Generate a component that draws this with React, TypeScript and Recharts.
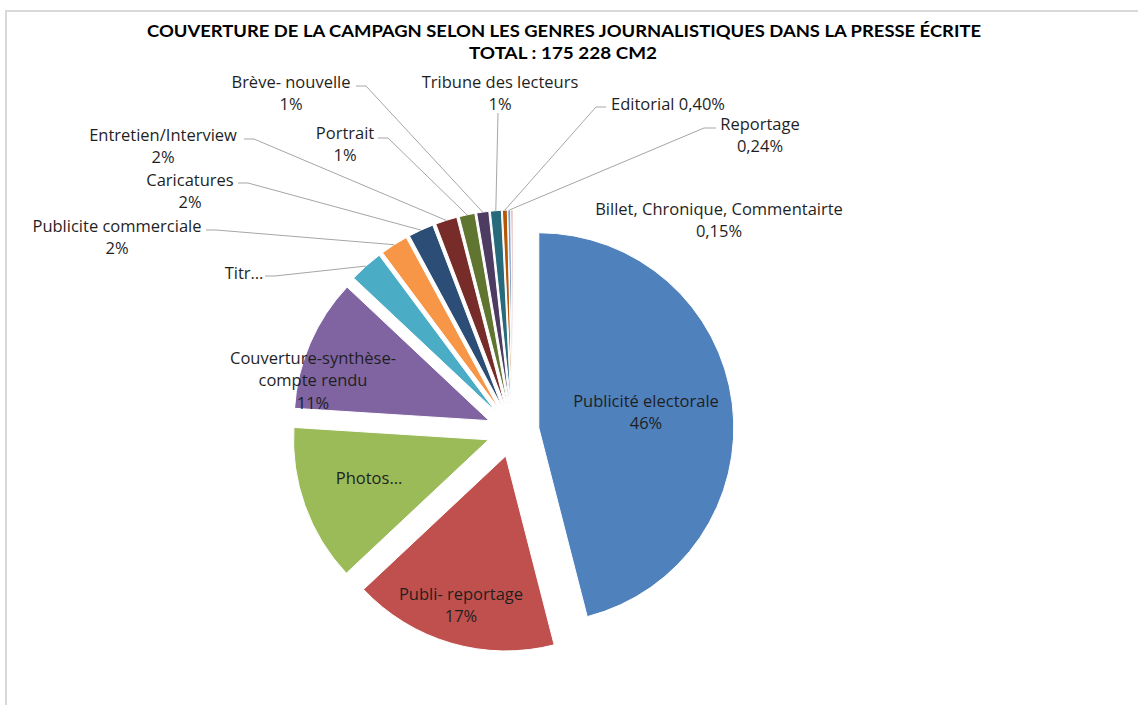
import { PieChart, Pie, Cell, Sector } from "recharts";

const genres = [
  "Publicité electorale",
  "Publi- reportage",
  "Photos…",
  "Couverture-synthèse-\ncompte rendu",
  "Titr…",
  "Publicite commerciale",
  "Caricatures",
  "Entretien/Interview",
  "Portrait",
  "Brève- nouvelle",
  "Tribune des lecteurs",
  "Editorial",
  "Reportage",
  "Billet, Chronique, Commentairte",
];

// share of the 175 228 cm2, in %
const shares = [46, 17, 13, 11, 2.8, 2.3, 2.1, 1.8, 1.3, 1.0, 0.9, 0.4, 0.24, 0.15];

const colors = [
  "#4F81BD", "#C0504D", "#9BBB59", "#8064A2", "#4BACC6", "#F79646", "#2C4D75",
  "#772C2A", "#5F7530", "#4D3B62", "#276A7C", "#B65708", "#729ACA", "#CD7371",
];

// where excel put each data label: "two" = name over %, "one" = name + % on a line, "name" = name only
const labelSpots = [
  { x: 646, y: 400, mode: "two" },
  { x: 461, y: 593, mode: "two" },
  { x: 369, y: 477, mode: "name" },
  { x: 313, y: 357, mode: "two" },
  { x: 244, y: 272, mode: "name", lead: [265, 276, 10] },
  { x: 117, y: 225, mode: "two", lead: [206, 230, 10] },
  { x: 190, y: 179, mode: "two", lead: [238, 183, 10] },
  { x: 163, y: 134, mode: "two", lead: [244, 139, 10] },
  { x: 345, y: 132, mode: "two", lead: [378, 138, 10] },
  { x: 291, y: 81, mode: "two", lead: [356, 86, 10] },
  { x: 500, y: 81, mode: "two", lead: [498, 113, 0] },
  { x: 668, y: 103, mode: "one", lead: [606, 107, -10] },
  { x: 760, y: 123, mode: "two", lead: [716, 128, -12] },
  { x: 719, y: 208, mode: "two" },
];

const data = genres.map((name, i) => ({ name, value: shares[i] }));

const RAD = Math.PI / 180;
const EXPLODE = 26;
const FONT = "'Open Sans', Lato, sans-serif";
const TITLE_FONT = "Lato, 'Open Sans', sans-serif";

const fmtPct = (v: number) =>
  v >= 0.5 ? `${Math.round(v)}%` : `${v.toFixed(2).replace(".", ",")}%`;

const offset = (midAngle: number, r: number) => [
  r * Math.cos(-midAngle * RAD),
  r * Math.sin(-midAngle * RAD),
];

const renderSlice = (props: any) => {
  const { cx, cy, midAngle, innerRadius, outerRadius, startAngle, endAngle, fill } = props;
  const [dx, dy] = offset(midAngle, EXPLODE);
  return (
    <Sector
      cx={cx + dx}
      cy={cy + dy}
      innerRadius={innerRadius}
      outerRadius={outerRadius}
      startAngle={startAngle}
      endAngle={endAngle}
      fill={fill}
      stroke="#fff"
      strokeWidth={1}
    />
  );
};

const renderLabel = (props: any) => {
  const { cx, cy, midAngle, outerRadius, index } = props;
  const spot = labelSpots[index];
  const name = genres[index];
  const pct = fmtPct(shares[index]);
  let lines: string[];
  if (spot.mode === "one") lines = [`${name} ${pct}`];
  else if (spot.mode === "name") lines = name.split("\n");
  else lines = [...name.split("\n"), pct];

  let leader = null;
  if (spot.lead) {
    const [lx, ly, elbow] = spot.lead as number[];
    const [ex, ey] = offset(midAngle, outerRadius + EXPLODE);
    leader = (
      <path
        d={`M${lx},${ly} L${lx + elbow},${ly} L${cx + ex},${cy + ey}`}
        fill="none"
        stroke="#a6a6a6"
        strokeWidth={1}
      />
    );
  }

  return (
    <g key={`lbl-${index}`}>
      {leader}
      {lines.map((t, k) => (
        <text
          key={k}
          x={spot.x}
          y={spot.y + k * 22.5}
          textAnchor="middle"
          dominantBaseline="central"
          fontFamily={FONT}
          fontSize={16.5}
          fill="#1f1f1f"
        >
          {t}
        </text>
      ))}
    </g>
  );
};

export default function App() {
  return (
    <div
      style={{
        position: "fixed",
        left: 0,
        top: 0,
        width: 1138,
        height: 705,
        overflow: "hidden",
        background: "#fff",
      }}
    >
      <div
        style={{
          position: "absolute",
          left: 5,
          top: 10,
          width: 1140,
          height: 710,
          border: "2px solid #d9d9d9",
        }}
      />
      <div style={{ position: "absolute", left: 0, top: 0 }}>
        <PieChart width={1138} height={705}>
          <Pie
            data={data}
            dataKey="value"
            nameKey="name"
            cx={508}
            cy={426}
            outerRadius={195}
            startAngle={90}
            endAngle={-270}
            shape={renderSlice}
            activeShape={renderSlice}
            inactiveShape={renderSlice}
            label={renderLabel}
            labelLine={false}
            isAnimationActive={false}
          >
            {data.map((d, i) => (
              <Cell key={d.name} fill={colors[i]} />
            ))}
          </Pie>
        </PieChart>
      </div>
      <svg
        width={1138}
        height={70}
        style={{ position: "absolute", left: 0, top: 0 }}
      >
        <text
          x={564}
          y={30}
          textAnchor="middle"
          dominantBaseline="central"
          fontFamily={TITLE_FONT}
          fontWeight="bold"
          fontSize={17}
          textLength={834}
          lengthAdjust="spacingAndGlyphs"
          fill="#000"
        >
          COUVERTURE DE LA CAMPAGN SELON LES GENRES JOURNALISTIQUES DANS LA PRESSE ÉCRITE
        </text>
        <text
          x={563}
          y={52}
          textAnchor="middle"
          dominantBaseline="central"
          fontFamily={TITLE_FONT}
          fontWeight="bold"
          fontSize={17}
          textLength={188}
          lengthAdjust="spacingAndGlyphs"
          fill="#000"
        >
          TOTAL : 175 228 CM2
        </text>
      </svg>
    </div>
  );
}
